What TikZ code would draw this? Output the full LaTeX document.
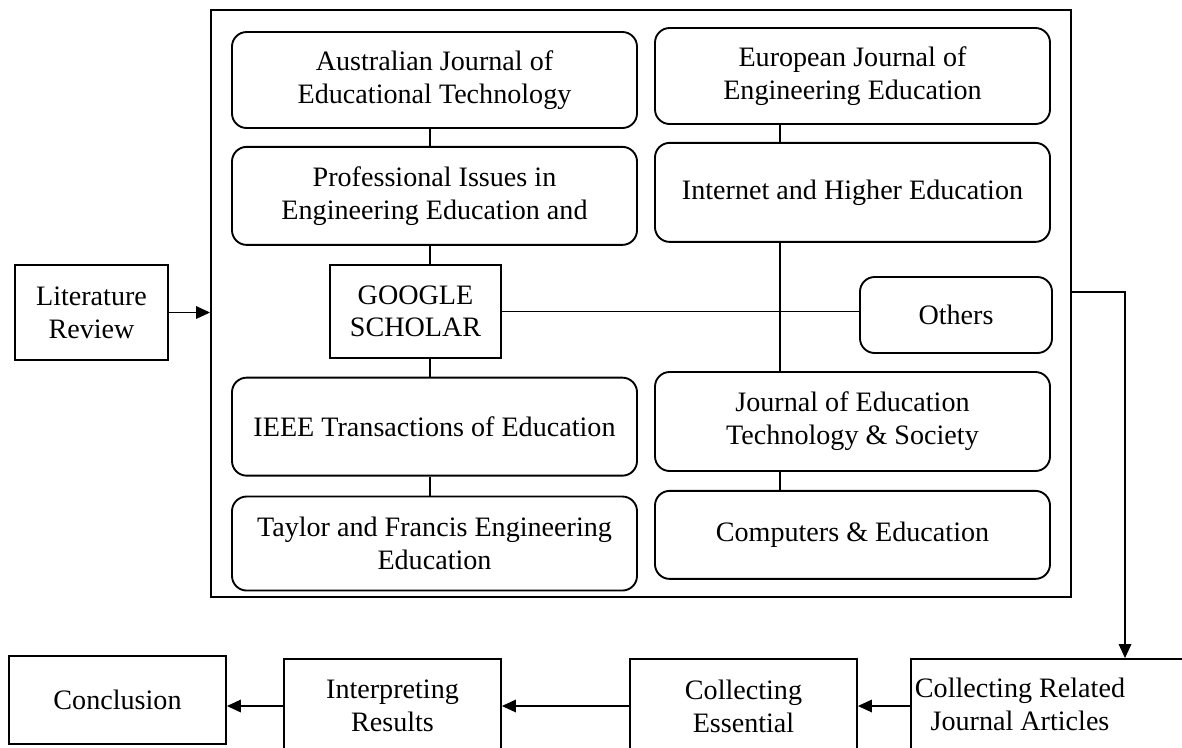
\documentclass[tikz,border=0pt]{standalone}
\usepackage{fontspec}
\setmainfont{Liberation Serif}
\usetikzlibrary{positioning,arrows.meta}

\begin{document}
\begin{tikzpicture}[x=0.015cm,y=-0.015cm,
		jbox/.style={draw,line width=0.8pt,rounded corners=0.22cm,align=center,
			minimum height=1.44cm,inner sep=2pt},
		sbox/.style={draw,line width=0.8pt,align=center,inner sep=2pt},
		link/.style={line width=0.5pt},
		flow/.style={line width=0.5pt,-{Triangle[length=2.1mm,width=1.9mm]}},
		font=\fontsize{12}{14}\selectfont]
		\useasboundingbox (0,0) rectangle (1182,747);
		
		\node [sbox,minimum width=12.9cm,minimum height=8.805cm] (frame) at (641,303.5) {};
		\node [sbox,minimum width=2.295cm,minimum height=1.425cm] (lit) at (91.5,312.5) {Literature\\Review};
		
		% left column
		\node [jbox,minimum width=6.075cm] (aus) at (434.5,80) {Australian Journal of\\Educational Technology};
		\node [jbox,minimum width=6.075cm,minimum height=1.47cm,below=0.255cm of aus] (prof) {Professional Issues in\\Engineering Education and};
		\node [sbox,minimum width=2.565cm,minimum height=1.395cm,below=0.27cm of prof,xshift=-0.285cm] (goo) {GOOGLE\\SCHOLAR};
		\node [jbox,minimum width=6.075cm,minimum height=1.47cm,below=0.27cm of goo,xshift=0.285cm] (ieee) {IEEE Transactions of Education};
		\node [jbox,minimum width=6.075cm,minimum height=1.41cm,below=0.285cm of ieee] (tay) {Taylor and Francis Engineering\\Education};
		
		% right column
		\node [jbox,minimum width=5.925cm] (eur) at (852.5,76) {European Journal of\\Engineering Education};
		\node [jbox,minimum width=5.925cm,minimum height=1.485cm,below=0.255cm of eur] (net) {Internet and Higher Education};
		\node [jbox,minimum width=2.88cm,minimum height=1.14cm] (oth) at (956,315) {Others};
		\node [jbox,minimum width=5.925cm,minimum height=1.485cm] (jed) at (852.5,421.5) {Journal of Education\\Technology \& Society};
		\node [jbox,minimum width=5.925cm,minimum height=1.32cm,below=0.27cm of jed] (comp) {Computers \& Education};
		
		% bottom row
		\node [sbox,minimum width=3.255cm,minimum height=1.32cm] (con) at (117.5,700) {Conclusion};
		\node [sbox,minimum width=3.255cm,minimum height=1.41cm] (int) at (392.5,706) {Interpreting\\Results};
		\node [sbox,minimum width=3.405cm,minimum height=1.41cm] (ess) at (743.5,706) {Collecting\\Essential};
		\node [sbox,minimum width=4.5cm,minimum height=1.41cm,anchor=west] (rel) at (910,706) {};
		\node [align=center,inner sep=0pt] (reltext) at (1020,704) {Collecting Related\\Journal Articles};
		
		\coordinate (lx) at (430,0);
		\coordinate (rx) at (780,0);
		\coordinate (bend) at (1125,292);
		
		\draw [link] (aus.south -| lx) -- (prof.north -| lx);
		\draw [link] (prof.south -| lx) -- (goo.north -| lx);
		\draw [link] (goo.south -| lx) -- (ieee.north -| lx);
		\draw [link] (ieee.south -| lx) -- (tay.north -| lx);
		\draw [link] (eur.south -| rx) -- (net.north -| rx);
		\draw [link] (net.south -| rx) -- (jed.north -| rx);
		\draw [link] (jed.south -| rx) -- (comp.north -| rx);
		\draw [link] (goo.east) -- (goo.east -| oth.west);
		
		\draw [flow] (lit.east) -- (lit.east -| frame.west);
		\draw [flow] (bend -| frame.east) -- (bend) -- (bend |- rel.north);
		\draw [flow] (rel.west) -- (ess.east);
		\draw [flow] (ess.west) -- (int.east);
		\draw [flow] (int.west) -- (int.west -| con.east);
\end{tikzpicture}
\end{document}
